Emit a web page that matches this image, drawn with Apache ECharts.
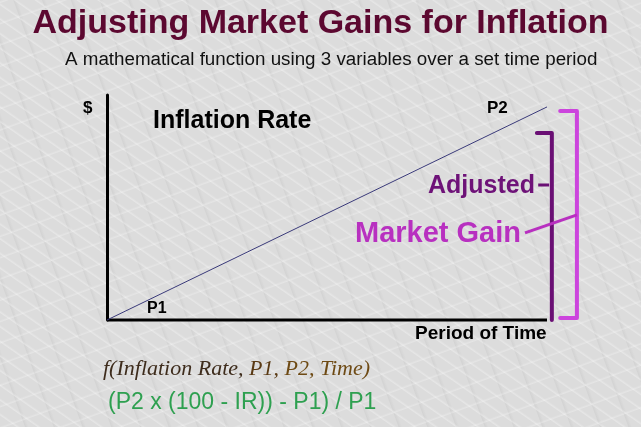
<!DOCTYPE html>
<html>
<head>
<meta charset="utf-8">
<script src="https://cdn.jsdelivr.net/npm/echarts@6/dist/echarts.min.js"></script>
<style>
html,body{margin:0;padding:0;width:641px;height:427px;overflow:hidden;}
body{
  background-color:#dcdcdc;
  background-image:
    repeating-linear-gradient(35deg, rgba(255,255,255,0) 0px, rgba(255,255,255,0) 9px, rgba(255,255,255,0.3) 10px, rgba(255,255,255,0) 12px),
    repeating-linear-gradient(-20deg, rgba(255,255,255,0) 0px, rgba(255,255,255,0) 17px, rgba(255,255,255,0.25) 18px, rgba(255,255,255,0) 20px),
    repeating-linear-gradient(70deg, rgba(160,160,160,0) 0px, rgba(160,160,160,0) 23px, rgba(150,150,150,0.12) 24px, rgba(160,160,160,0) 27px);
}
#chart{width:641px;height:427px;}
</style>
</head>
<body>
<div id="chart"></div>
<script>
// Data (time units on x, $ units on y)
var p1 = [0, 0];
var p2 = [10, 9.47];
var trendLine = [p1, p2];
var timeAxisLine = [[0, 0], [10, 0]];
var adjustedBracket = [[9.77, 8.31], [10.11, 8.31], [10.11, 0.0]];
var marketBracket = [[10.30, 9.29], [10.68, 9.29], [10.68, 0.09], [10.30, 0.09]];
var adjustedConnector = [[9.80, 6.0], [10.05, 6.0]];
var marketConnector = [[9.50, 3.87], [10.68, 4.67]];

var titleText = 'Adjusting Market Gains for Inflation';
var subtitleText = 'A mathematical function using 3 variables over a set time period';
var functionParts = ['f(Inflation Rate, ', 'P1, ', 'P2, Time)'];
var formulaText = '(P2 x (100 - IR)) - P1) / P1';

var chart = echarts.init(document.getElementById('chart'));
var sans = 'Liberation Sans, Arial, sans-serif';
var serifFont = 'italic 22px Liberation Serif, Times New Roman, serif';

chart.setOption({
  animation: false,
  backgroundColor: 'transparent',
  grid: {left: 107, top: 95, width: 484, height: 225},
  xAxis: {
    type: 'value', min: 0, max: 11,
    axisLine: {show: false},
    axisTick: {show: false}, axisLabel: {show: false}, splitLine: {show: false}
  },
  yAxis: {
    type: 'value', min: 0, max: 10,
    axisLine: {show: true, onZero: false, lineStyle: {color: '#000', width: 3}},
    axisTick: {show: false}, axisLabel: {show: false}, splitLine: {show: false}
  },
  series: [
    {type: 'line', data: timeAxisLine, symbol: 'none', clip: false,
     lineStyle: {color: '#000', width: 3}},
    {type: 'line', data: trendLine, symbol: 'none', clip: false,
     lineStyle: {color: '#3a3a7a', width: 1}},
    {type: 'line', data: adjustedBracket, symbol: 'none', clip: false,
     lineStyle: {color: '#6a0f74', width: 4, cap: 'round', join: 'round'}},
    {type: 'line', data: marketBracket, symbol: 'none', clip: false,
     lineStyle: {color: '#cc44dd', width: 4, cap: 'round', join: 'round'}},
    {type: 'line', data: adjustedConnector, symbol: 'none', clip: false,
     lineStyle: {color: '#6a0f74', width: 3}},
    {type: 'line', data: marketConnector, symbol: 'none', clip: false,
     lineStyle: {color: '#b830c0', width: 3}}
  ],
  graphic: [
    {type: 'text', left: 'center', top: 7, style: {text: titleText, fill: '#5c0830', font: 'bold 34px ' + sans}},
    {type: 'text', x: 65, y: 50, style: {text: subtitleText, fill: '#111', font: '18.8px ' + sans}},
    {type: 'text', x: 83, y: 100, style: {text: '$', fill: '#000', font: 'bold 17px ' + sans}},
    {type: 'text', x: 153, y: 109, style: {text: 'Inflation Rate', fill: '#000', font: 'bold 25px ' + sans}},
    {type: 'text', x: 487, y: 100, style: {text: 'P2', fill: '#000', font: 'bold 17px ' + sans}},
    {type: 'text', x: 147, y: 301, style: {text: 'P1', fill: '#000', font: 'bold 16px ' + sans}},
    {type: 'text', x: 415, y: 324, style: {text: 'Period of Time', fill: '#000', font: 'bold 19px ' + sans}},
    {type: 'text', x: 428, y: 174, style: {text: 'Adjusted', fill: '#6e1278', font: 'bold 25px ' + sans}},
    {type: 'text', x: 355, y: 219, style: {text: 'Market Gain', fill: '#b830c0', font: 'bold 29px ' + sans}},
    {type: 'text', x: 103, y: 358, style: {
      text: '{a|' + functionParts[0] + '}{b|' + functionParts[1] + '}{c|' + functionParts[2] + '}',
      font: serifFont,
      rich: {
        a: {fill: '#3e2c1c', font: serifFont},
        b: {fill: '#5a3a14', font: serifFont},
        c: {fill: '#6e4a14', font: serifFont}
      }
    }},
    {type: 'text', x: 108, y: 391, style: {text: formulaText, fill: '#2ea050', font: '23px ' + sans}}
  ]
});
</script>
</body>
</html>
